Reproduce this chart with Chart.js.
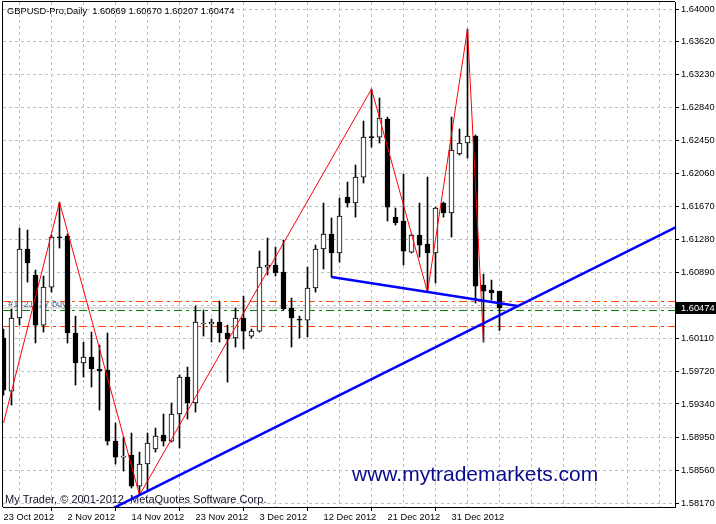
<!DOCTYPE html>
<html>
<head>
<meta charset="utf-8">
<title>GBPUSD-Pro Daily</title>
<script src="https://cdn.jsdelivr.net/npm/chart.js@4.4.1/dist/chart.umd.min.js"></script>
<style>
  html, body { margin: 0; padding: 0; background: #fff; }
  canvas { display: block; }
</style>
</head>
<body>
<canvas id="chart" width="716" height="524"></canvas>
<script>
const symbol = "GBPUSD-Pro,Daily";
const dateTicks = [0, 8, 16, 24, 32, 40, 48, 56];
const dateLabels = ["23 Oct 2012", "2 Nov 2012", "14 Nov 2012", "23 Nov 2012",
                    "3 Dec 2012", "12 Dec 2012", "21 Dec 2012", "31 Dec 2012"];
const gridIdx = [0, 4, 8, 12, 16, 20, 24, 28, 32, 36, 40, 44, 48, 52, 56, 60, 64, 68, 72, 76, 80];

// daily candles, one per trading day starting 23 Oct 2012
const opens = [
  1.60118, 1.59492, 1.60354, 1.61168, 1.60861, 1.60271, 1.60719, 1.61309, 1.61321, 1.60177,
  1.59823, 1.59893, 1.59752, 1.59740, 1.58902, 1.58713, 1.58737, 1.58371, 1.58631, 1.58808,
  1.58973, 1.58902, 1.59221, 1.59657, 1.59351, 1.60283, 1.60283, 1.60306, 1.60177, 1.60118,
  1.60354, 1.60141, 1.60200, 1.60955, 1.60979, 1.60896, 1.60472, 1.60342, 1.60330, 1.60708,
  1.61168, 1.61345, 1.61121, 1.61781, 1.61711, 1.62017, 1.62489, 1.62489, 1.62702, 1.61545,
  1.61498, 1.61132, 1.61333, 1.61227, 1.61121, 1.61711, 1.61593, 1.62289, 1.62419, 1.62501,
  1.60743, 1.60684, 1.60669
];
const highs = [
  1.60224, 1.60460, 1.61416, 1.61392, 1.60920, 1.60849, 1.61333, 1.61722, 1.61345, 1.60377,
  1.60070, 1.60188, 1.60035, 1.60177, 1.59115, 1.58949, 1.58997, 1.58772, 1.58997, 1.59056,
  1.59221, 1.59351, 1.59681, 1.59775, 1.60495, 1.60448, 1.60342, 1.60554, 1.60271, 1.60472,
  1.60613, 1.60224, 1.61144, 1.61298, 1.61191, 1.61274, 1.60590, 1.60377, 1.60955, 1.61215,
  1.61711, 1.61534, 1.61770, 1.61958, 1.62159, 1.62678, 1.63056, 1.62950, 1.62725, 1.61652,
  1.62053, 1.61345, 1.61711, 1.62017, 1.61663, 1.61722, 1.62725, 1.62584, 1.63764, 1.62513,
  1.60873, 1.60802, 1.60670
];
const lows = [
  1.59445, 1.59327, 1.60271, 1.60778, 1.60059, 1.60188, 1.60660, 1.61180, 1.60059, 1.59563,
  1.59657, 1.59539, 1.59268, 1.58855, 1.58631, 1.58548, 1.58348, 1.58265, 1.58324, 1.58772,
  1.58843, 1.58890, 1.58820, 1.59162, 1.59244, 1.60141, 1.60070, 1.60070, 1.59598, 1.60011,
  1.59988, 1.60118, 1.60188, 1.60861, 1.60849, 1.60448, 1.60011, 1.60118, 1.60129, 1.60660,
  1.60932, 1.60837, 1.61014, 1.61663, 1.61545, 1.61947, 1.62371, 1.62419, 1.61498, 1.61451,
  1.60979, 1.61121, 1.61073, 1.60660, 1.60767, 1.61545, 1.61309, 1.62277, 1.62242, 1.60531,
  1.60070, 1.60566, 1.60207
];
const closes = [
  1.59504, 1.60354, 1.61168, 1.61003, 1.60271, 1.60719, 1.61309, 1.61300, 1.60177, 1.59823,
  1.59893, 1.59752, 1.59728, 1.58902, 1.58713, 1.58725, 1.58371, 1.58631, 1.58879, 1.58961,
  1.58902, 1.59221, 1.59657, 1.59351, 1.60306, 1.60295, 1.60306, 1.60177, 1.60106, 1.60354,
  1.60200, 1.60200, 1.60955, 1.60979, 1.60885, 1.60460, 1.60354, 1.60330, 1.60708, 1.61168,
  1.61345, 1.61121, 1.61557, 1.61711, 1.62017, 1.62489, 1.62483, 1.62714, 1.61663, 1.61475,
  1.61144, 1.61333, 1.61215, 1.61121, 1.61652, 1.61593, 1.62336, 1.62419, 1.62501, 1.60731,
  1.60672, 1.60649, 1.60474
];

const yTicks = [1.64000, 1.63620, 1.63230, 1.62840, 1.62450, 1.62060, 1.61670, 1.61280,
                1.60890, 1.60500, 1.60110, 1.59720, 1.59340, 1.58950, 1.58560, 1.58170];

// drawn objects
const zigzagIdx = [0, 7, 17, 46, 53, 58, 60];
const zigzagPrice = [1.59115, 1.61722, 1.58265, 1.63056, 1.60660, 1.63764, 1.60070];
const trendIdx = [13, 84];
const trendPrice = [1.58076, 1.61424];
const necklineIdx = [41, 64.25];
const necklinePrice = [1.60837, 1.60495];
const levelUpper = 1.60549;
const levelBuy = 1.60443;
const levelLower = 1.60254;
const orderLabel = "#1721717 buy";

const xMin = -0.0625, xMax = 83.9375;
const font = "Liberation Sans, Arial, sans-serif";

const idx = opens.map((_, i) => i);
const wicks = idx.map(i => ({ x: i, y: [lows[i], highs[i]] }));
const bodies = idx.map(i => ({ x: i, y: [Math.min(opens[i], closes[i]), Math.max(opens[i], closes[i])] }));
const bodyFill = idx.map(i => (closes[i] >= opens[i] ? "#ffffff" : "#000000"));
const last = opens.length - 1;

function hline(v) {
  return [{ x: xMin, y: v }, { x: xMax, y: v }];
}
function pts(xs, ys) {
  return xs.map((x, i) => ({ x: x, y: ys[i] }));
}
function lineSet(data, color, width, dash, order) {
  return {
    type: "line", data: data, borderColor: color, borderWidth: width,
    borderDash: dash, pointRadius: 0, tension: 0, fill: false, order: order, clip: 0
  };
}

const overlay = {
  id: "overlay",
  beforeDatasetsDraw(chart) {
    const ctx = chart.ctx;
    const y = chart.scales.y;
    ctx.save();
    ctx.font = "9.3px " + font;
    ctx.fillStyle = "#4a6d92";
    ctx.textBaseline = "alphabetic";
    ctx.fillText(orderLabel, 8, y.getPixelForValue(levelBuy) - 3);
    ctx.font = "11px " + font;
    ctx.fillStyle = "#101028";
    ctx.fillText("My Trader, \u00a9 2001-2012, MetaQuotes Software Corp.", 5, 503);
    ctx.restore();
  },
  afterDraw(chart) {
    const ctx = chart.ctx;
    const a = chart.chartArea;
    const y = chart.scales.y;
    ctx.save();
    // frame
    ctx.strokeStyle = "#000";
    ctx.lineWidth = 1;
    ctx.beginPath();
    ctx.moveTo(2.5, a.bottom);
    ctx.lineTo(2.5, 1.5);
    ctx.lineTo(a.right, 1.5);
    ctx.stroke();
    // title
    ctx.font = "9.3px " + font;
    ctx.fillStyle = "#000";
    ctx.fillText(symbol + "  " + [opens[last], highs[last], lows[last], closes[last]].map(v => v.toFixed(5)).join(" "), 7, 14);
    // watermark
    ctx.font = "21px " + font;
    ctx.fillStyle = "#0a0a8c";
    ctx.fillText("www.mytrademarkets.com", 352, 481);
    // current price box
    const py = Math.round(y.getPixelForValue(closes[last]));
    ctx.fillStyle = "#000";
    ctx.fillRect(676, py - 6, 40, 12);
    ctx.fillStyle = "#fff";
    ctx.font = "9.3px " + font;
    ctx.textBaseline = "middle";
    ctx.fillText(closes[last].toFixed(5), 681, py);
    ctx.restore();
  }
};

new Chart(document.getElementById("chart"), {
  type: "bar",
  data: {
    datasets: [
      lineSet(hline(levelUpper), "#ff4500", 1, [8, 4, 3, 4], 9),
      lineSet(hline(levelLower), "#ff4500", 1, [8, 4, 3, 4], 9),
      lineSet(hline(levelBuy), "#008000", 1, [8, 4, 3, 4], 9),
      lineSet(hline(closes[last]), "#c0c0c0", 1, [], 10),
      {
        data: wicks, backgroundColor: "#000", borderWidth: 0,
        barThickness: 1, grouped: false, order: 5, clip: 0
      },
      {
        data: bodies, backgroundColor: bodyFill, borderColor: "#000", borderWidth: 1,
        borderSkipped: false, barThickness: 5, minBarLength: 1, grouped: false, order: 4, clip: 0
      },
      lineSet(pts(zigzagIdx, zigzagPrice), "#ff0000", 1, [], 3),
      lineSet(pts(trendIdx, trendPrice), "#0000ff", 2.5, [], 2),
      lineSet(pts(necklineIdx, necklinePrice), "#0000ff", 2.5, [], 2)
    ]
  },
  options: {
    responsive: false,
    animation: false,
    devicePixelRatio: 1,
    layout: { padding: { left: 3, top: 2, right: 0, bottom: 0 } },
    plugins: { legend: { display: false }, tooltip: { enabled: false } },
    scales: {
      x: {
        type: "linear", min: xMin, max: xMax, offset: false,
        afterBuildTicks: a => { a.ticks = gridIdx.map(v => ({ value: v })); },
        afterFit: a => { a.height = 17; a.paddingLeft = 0; a.paddingRight = 0; },
        ticks: {
          autoSkip: false, maxRotation: 0, minRotation: 0, align: "start", padding: 1,
          color: "#000", font: { family: font, size: 9.3 },
          callback: v => { const k = dateTicks.indexOf(v); return k >= 0 ? dateLabels[k] : ""; }
        },
        grid: {
          color: c => (c.tick && c.tick.value === 0 ? "rgba(0,0,0,0)" : "#c0c0c0"),
          tickColor: c => (c.tick && dateTicks.indexOf(c.tick.value) >= 0 ? "#000" : "rgba(0,0,0,0)"),
          tickLength: 4
        },
        border: { display: true, color: "#000", width: 1, dash: [3, 3] }
      },
      y: {
        position: "right", min: 1.58124, max: 1.64083,
        afterBuildTicks: a => { a.ticks = yTicks.map(v => ({ value: v })); },
        afterFit: a => { a.width = 41; a.paddingTop = 0; a.paddingBottom = 0; },
        ticks: {
          autoSkip: false, padding: 2, color: "#000", font: { family: font, size: 9.3 },
          callback: v => v.toFixed(5)
        },
        grid: { color: "#c0c0c0", tickColor: "#000", tickLength: 4 },
        border: { display: true, color: "#000", width: 1, dash: [3, 3] }
      }
    }
  },
  plugins: [overlay]
});
</script>
</body>
</html>
